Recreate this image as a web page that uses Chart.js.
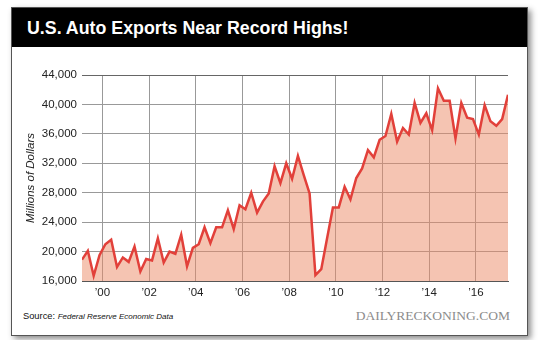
<!DOCTYPE html>
<html>
<head>
<meta charset="utf-8">
<script src="https://cdn.jsdelivr.net/npm/chart.js@4.4.1/dist/chart.umd.min.js"></script>
<style>
  html, body { margin: 0; padding: 0; background: #fff; }
  body { width: 540px; height: 340px; position: relative; overflow: hidden; font-family: "Liberation Sans", Arial, sans-serif; }
  #card { position: absolute; left: 11px; top: 7px; width: 515px; height: 327px; border: 1px solid #555; background: #fff; box-shadow: 3px 3px 6px rgba(0,0,0,0.45); }
  #titleBar { position: absolute; left: 0; top: 0; right: 0; height: 39px; background: #000; }
  #titleBar span { position: absolute; left: 15px; top: 10px; color: #fff; font-weight: bold; font-size: 17.8px; line-height: 20px; white-space: nowrap; }
  #source { position: absolute; left: 23px; top: 311px; font-size: 9.3px; color: #111; white-space: nowrap; }
  #source i { font-size: 8px; }
  #brand { position: absolute; right: 30px; top: 308px; font-family: "Liberation Serif", "Times New Roman", serif; font-size: 13.5px; color: #8c8c8c; white-space: nowrap; }
  #chart { position: absolute; left: 0; top: 0; }
</style>
</head>
<body>
<div id="card"><div id="titleBar"><span>U.S. Auto Exports Near Record Highs!</span></div></div>
<div id="source">Source: <i>Federal Reserve Economic Data</i></div>
<div id="brand">DAILYRECKONING.COM</div>
<canvas id="chart" width="540" height="340"></canvas>
<script>
// Quarterly auto exports, millions of dollars, from 1999 Q1
const firstYear = 1999;
const autoExports = [
  18900, 20100, 16700, 19500, 21000, 21600, 17900, 19200,
  18600, 20700, 17300, 19000, 18800, 21800, 18500, 20000,
  19700, 22300, 18000, 20500, 21000, 23300, 21150, 23300,
  23300, 25600, 23050, 26300, 25750, 28000, 25300, 26800,
  27900, 31600, 29300, 32000, 29900, 33000, 30400, 27900,
  16800, 17600, 21800, 26000, 26000, 28800, 27100, 30000,
  31300, 33800, 32800, 35200, 35700, 38700, 34950, 36800,
  35900, 40200, 37500, 38800, 36500, 42200, 40500, 40500,
  35400, 40200, 38200, 38000, 35900, 39900, 37700, 37100,
  38000, 41300
];

// x axis labels
const tickYears = [2000, 2002, 2004, 2006, 2008, 2010, 2012, 2014, 2016];
const tickLabels = ["’00", "’02", "’04", "’06", "’08", "’10", "’12", "’14", "’16"];

// y axis range
const yMin = 16000;
const yMax = 44000;
const yStep = 4000;

// each quarter sits at its midpoint on the year axis
const points = autoExports.map((v, i) => ({ x: firstYear + (i + 0.5) / 4, y: v }));

Chart.defaults.font.family = "'Liberation Sans', Arial, sans-serif";
Chart.defaults.color = "#222";

new Chart(document.getElementById("chart"), {
  type: "line",
  data: {
    datasets: [{
      data: points,
      borderColor: "#e2403a",
      backgroundColor: "rgba(235, 137, 101, 0.5)",
      borderWidth: 2.5,
      fill: "start",
      pointRadius: 0,
      tension: 0
    }]
  },
  options: {
    responsive: false,
    devicePixelRatio: 1,
    animation: false,
    layout: { padding: { left: 0, top: 75, right: 32, bottom: 37 } },
    plugins: { legend: { display: false }, tooltip: { enabled: false } },
    scales: {
      x: {
        type: "linear",
        min: points[0].x,
        max: points[points.length - 1].x,
        afterBuildTicks: (scale) => { scale.ticks = tickYears.map(value => ({ value })); },
        afterFit: (scale) => { scale.height = 22; },
        ticks: {
          autoSkip: false,
          maxRotation: 0,
          padding: 5,
          font: { size: 11.5 },
          callback: (value) => tickLabels[tickYears.indexOf(value)]
        },
        grid: { color: "#999", drawTicks: false },
        border: { color: "#555", width: 1 }
      },
      y: {
        min: yMin,
        max: yMax,
        afterFit: (scale) => { scale.width = 82; },
        ticks: {
          stepSize: yStep,
          padding: 5,
          font: { size: 11.5 },
          callback: (value) => value.toLocaleString("en-US")
        },
        grid: {
          color: (ctx) => ctx.tick && ctx.tick.value === yMax ? "#666" : "#999",
          drawTicks: false
        },
        border: { display: false },
        title: {
          display: true,
          text: "Millions of Dollars",
          font: { size: 11.5, style: "italic" },
          padding: { top: 24, bottom: 0 }
        }
      }
    }
  }
});
</script>
</body>
</html>
